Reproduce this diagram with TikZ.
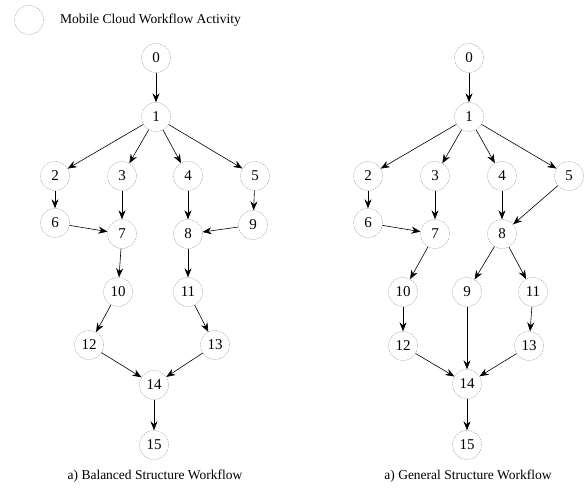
\documentclass[tikz,border=0pt]{standalone}
\usepackage{fontspec}
\setmainfont{Liberation Serif}
\usetikzlibrary{arrows.meta}
\begin{document}
\begin{tikzpicture}[x=1pt,y=-1pt,
  act/.style={circle,draw=gray!80,dash pattern=on 1.5pt off 1pt,line width=0.4pt,minimum size=29pt,inner sep=0pt,font=\fontsize{15}{17}\selectfont},
  edge/.style={-{Stealth[length=9pt,width=7pt]},line width=0.6pt},
  lbl/.style={font=\fontsize{13.5}{16}\selectfont,inner sep=0pt}]
\useasboundingbox (0,0) rectangle (587,493);
% legend
\node[act] (leg) at (29,20) {};
\node[lbl,anchor=west] (legt) at (60,20) {Mobile Cloud Workflow Activity};
% left graph
\node[act] (a0) at (156,58) {0};
\node[act] (a1) at (156,117) {1};
\node[act] (a2) at (55,176) {2};
\node[act] (a3) at (122,176) {3};
\node[act] (a4) at (188,176) {4};
\node[act] (a5) at (255,176) {5};
\node[act] (a6) at (55,223) {6};
\node[act] (a7) at (122,234) {7};
\node[act] (a8) at (188,234) {8};
\node[act] (a9) at (253,225) {9};
\node[act] (a10) at (118,292) {10};
\node[act] (a11) at (188,292) {11};
\node[act] (a12) at (89,345) {12};
\node[act] (a13) at (215,345) {13};
\node[act] (a14) at (154,385) {14};
\node[act] (a15) at (154,445) {15};
\node[lbl] (capa) at (155,476) {a) Balanced Structure Workflow};
\foreach \s/\t in {0/1,1/2,1/3,1/4,1/5,2/6,3/7,4/8,5/9,6/7,9/8,7/10,8/11,10/12,11/13,12/14,13/14,14/15}
  \draw[edge] (a\s) -- (a\t);
% right graph
\node[act] (b0) at (469,58) {0};
\node[act] (b1) at (469,117) {1};
\node[act] (b2) at (368,176) {2};
\node[act] (b3) at (435,176) {3};
\node[act] (b4) at (502,176) {4};
\node[act] (b5) at (569,176) {5};
\node[act] (b6) at (368,223) {6};
\node[act] (b7) at (435,234) {7};
\node[act] (b8) at (502,234) {8};
\node[act] (b10) at (403,292) {10};
\node[act] (b9) at (467,292) {9};
\node[act] (b11) at (533,292) {11};
\node[act] (b12) at (403,346) {12};
\node[act] (b13) at (529,346) {13};
\node[act] (b14) at (467,384) {14};
\node[act] (b15) at (467,445) {15};
\node[lbl] (capb) at (468,476) {a) General Structure Workflow};
\foreach \s/\t in {0/1,1/2,1/3,1/4,1/5,2/6,3/7,4/8,5/8,6/7,7/10,8/9,8/11,10/12,11/13,9/14,12/14,13/14,14/15}
  \draw[edge] (b\s) -- (b\t);
\end{tikzpicture}
\end{document}
